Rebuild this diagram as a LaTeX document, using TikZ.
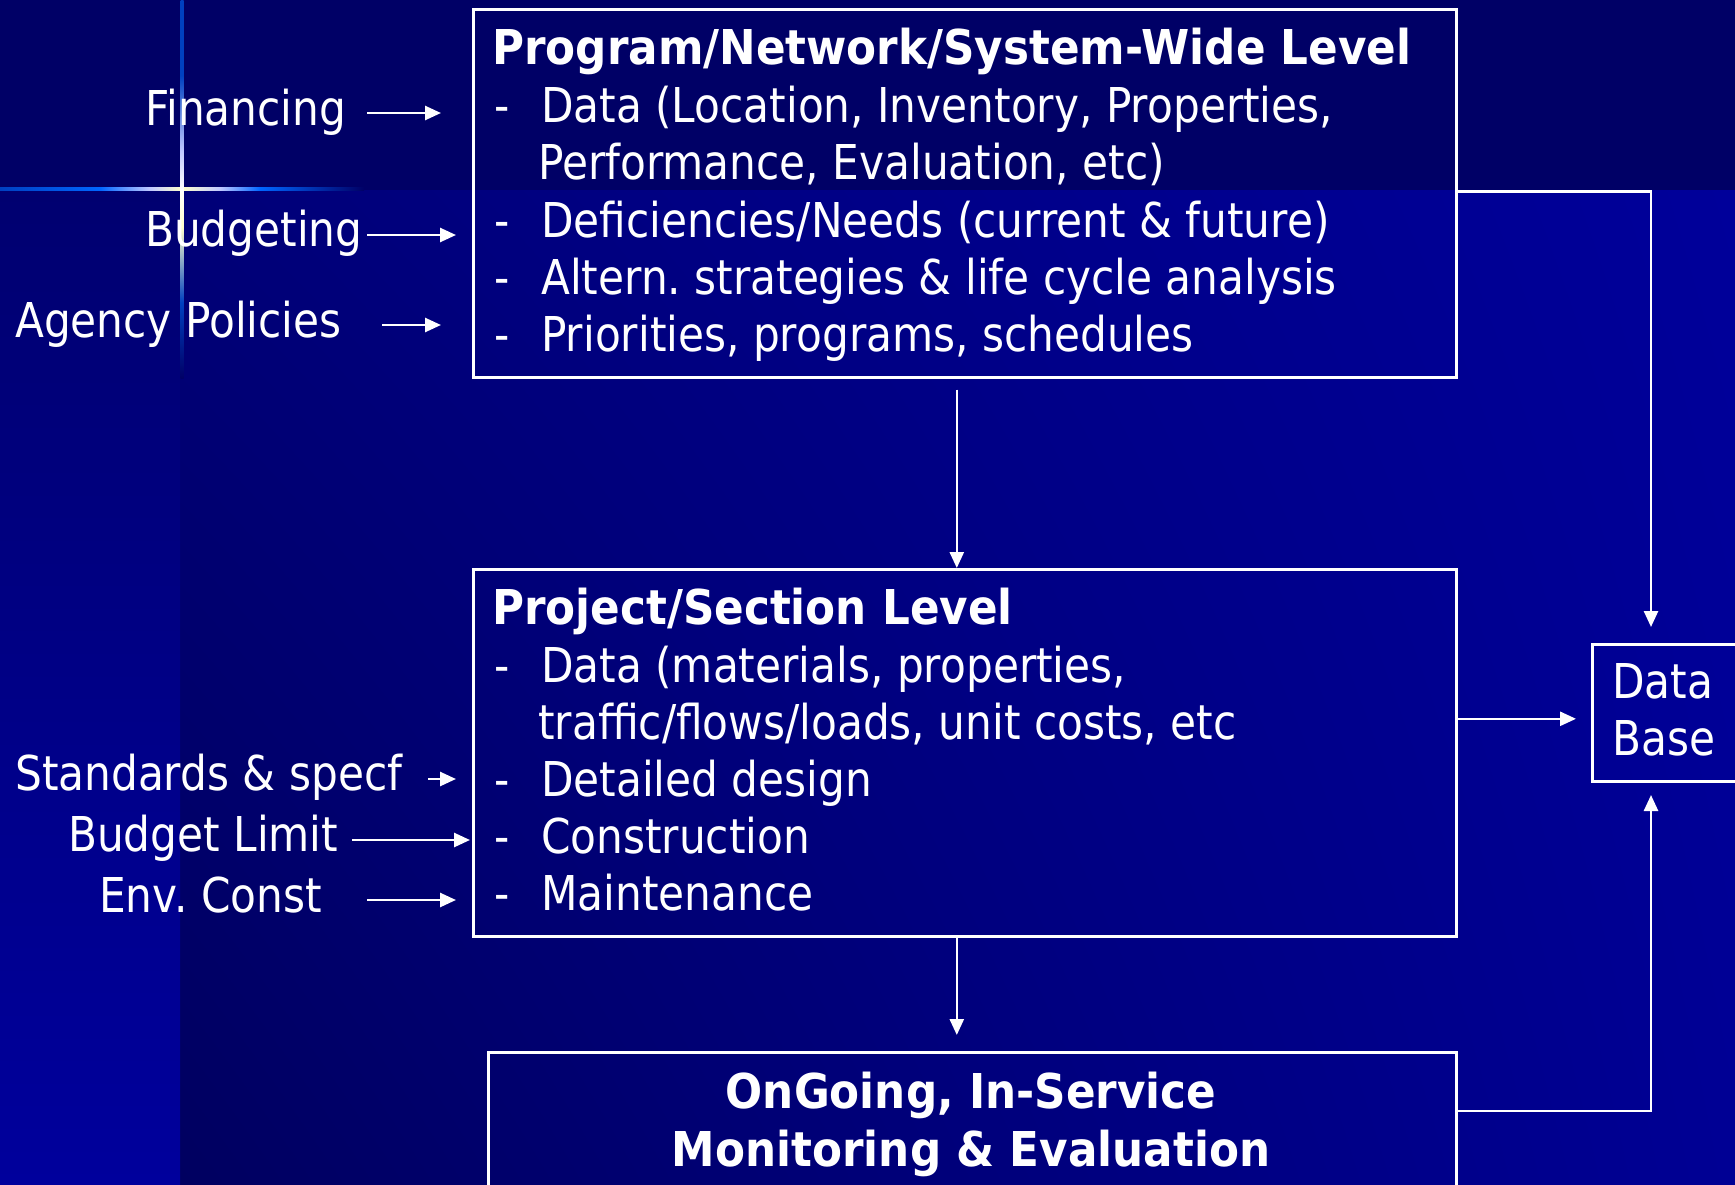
\documentclass[tikz,border=0pt]{standalone}
\usepackage{fontspec}
\setmainfont{DejaVu Sans}[FakeStretch=0.88, BoldFeatures={FakeStretch=0.91}]
\frenchspacing
\usetikzlibrary{arrows.meta, positioning, shadings}

\definecolor{bandnavy}{RGB}{0,0,102}
\definecolor{bgtl}{RGB}{0,0,120}
\definecolor{bgtr}{RGB}{0,0,154}
\definecolor{bgbl}{RGB}{0,0,96}
\definecolor{bgbr}{RGB}{0,0,148}
\definecolor{striptop}{RGB}{0,0,112}
\definecolor{stripbot}{RGB}{0,0,156}
\definecolor{flareblue}{RGB}{0,102,255}
\definecolor{flaremid}{RGB}{0,64,192}
\definecolor{flarecore}{RGB}{255,255,204}
\definecolor{flarelilac}{RGB}{192,200,255}

% lens flare on the background
\pgfdeclarehorizontalshading{hflare}{100bp}{color(0bp)=(flaremid); color(25bp)=(flaremid);
  color(38.7bp)=(flareblue); color(45.6bp)=(flarelilac); color(50bp)=(flarecore);
  color(55.2bp)=(flarelilac); color(60.7bp)=(flareblue); color(75bp)=(bandnavy); color(100bp)=(bandnavy)}
\pgfdeclareverticalshading{vflare}{100bp}{color(0bp)=(bandnavy); color(25bp)=(bandnavy);
  color(35bp)=(flaremid); color(45bp)=(flarecore); color(50bp)=(white);
  color(55bp)=(flarelilac); color(65bp)=(flaremid); color(75bp)=(flaremid); color(100bp)=(flaremid)}

\begin{document}
\begin{tikzpicture}[x=1pt, y=-1pt, >={Triangle[length=16pt,width=14pt]},
    every node/.style={text=white, font=\fontsize{48}{57}\selectfont},
    panel/.style={draw=white, line width=2.6pt, anchor=north west, inner sep=0pt},
    item/.style={anchor=base west, inner sep=0pt},
    head/.style={item, font=\fontsize{48}{57}\selectfont\bfseries},
    feed/.style={draw=white, line width=2.6pt, ->}]

    % background
    \useasboundingbox (0,0) rectangle (1735,1185);
    \clip (0,0) rectangle (1735,1185);
    \shade[upper left=bgtl, upper right=bgtr, lower left=bgbl, lower right=bgbr]
        (180,190) rectangle (1735,1185);
    \shade[top color=striptop, bottom color=stripbot] (0,190) rectangle (180,1185);
    \fill[bandnavy] (0,0) rectangle (1735,190);
    \shade[shading=hflare] (0,187.5) rectangle (364,191);
    \shade[shading=vflare] (180.5,0) rectangle (183.5,378);

    % boxes
    \node[panel, minimum width=983pt, minimum height=368pt] (prog) at (472,8) {};
    \node[panel, minimum width=983pt, minimum height=367pt] (proj) at (472,568) {};
    \node[panel, minimum width=968pt, minimum height=250pt] (mon) at (487,1051) {};
    \node[panel, minimum width=154pt, minimum height=137pt] (db) at (1591,643) {};

    % program level
    \node[head] (prog-h) at (492,65) {Program/Network/System-Wide Level};
    \node[item] (prog-1) at (494,123) {\makebox[47pt][l]{-}Data (Location, Inventory, Properties,};
    \node[item] (prog-1b) at (538,180) {Performance, Evaluation, etc)};
    \node[item] (prog-2) at (494,237) {\makebox[47pt][l]{-}Deficiencies/Needs (current \& future)};
    \node[item] (prog-3) at (494,294) {\makebox[47pt][l]{-}Altern. strategies \& life cycle analysis};
    \node[item] (prog-4) at (494,351) {\makebox[47pt][l]{-}Priorities, programs, schedules};

    % project level
    \node[head] (proj-h) at (492,624) {Project/Section Level};
    \node[item] (proj-1) at (494,682) {\makebox[47pt][l]{-}Data (materials, properties,};
    \node[item] (proj-1b) at (538,739) {traffic/flows/loads, unit costs, etc};
    \node[item] (proj-2) at (494,796) {\makebox[47pt][l]{-}Detailed design};
    \node[item] (proj-3) at (494,853) {\makebox[47pt][l]{-}Construction};
    \node[item] (proj-4) at (494,910) {\makebox[47pt][l]{-}Maintenance};

    % monitoring
    \node[head, anchor=base] (mon-1) at (971,1108) {OnGoing, In-Service};
    \node[head, anchor=base] (mon-2) at (971,1166) {Monitoring \& Evaluation};

    % data base
    \node[item] (db-1) at (1612,698) {Data};
    \node[item] (db-2) at (1612,755) {Base};
    \coordinate (db-top) at (1651,643);
    \coordinate (db-bot) at (1651,780);

    % inputs
    \node[item] (fin) at (145,126) {Financing};
    \node[item] (bud) at (145,247) {Budgeting};
    \node[item] (pol) at (15,337) {Agency Policies};
    \node[item] (std) at (15,790) {Standards \& specf};
    \node[item] (lim) at (68,851) {Budget Limit};
    \node[item] (env) at (99,912) {Env. Const};

    \coordinate (fin-a) at (367,113);
    \coordinate (bud-a) at (367,235);
    \coordinate (pol-a) at (382,325);
    \coordinate (std-a) at (428,779);
    \coordinate (lim-a) at (352,840);
    \coordinate (env-a) at (367,900);

    \draw[feed, shorten >=31pt] (fin-a) -- (fin-a -| prog.west);
    \draw[feed, shorten >=16pt] (bud-a) -- (bud-a -| prog.west);
    \draw[feed, shorten >=31pt] (pol-a) -- (pol-a -| prog.west);
    \draw[feed, shorten >=16pt] (std-a) -- (std-a -| proj.west);
    \draw[feed, shorten >=2pt] (lim-a) -- (lim-a -| proj.west);
    \draw[feed, shorten >=16pt] (env-a) -- (env-a -| proj.west);

    % flow between levels
    \draw[feed] ([xshift=-8pt,yshift=-11pt]prog.south) -- ([xshift=-8pt]proj.north);
    \draw[feed, shorten >=16pt] ([xshift=-8pt]proj.south) -- ([xshift=-8pt]proj.south |- mon.north);
    \draw[feed, shorten >=16pt] ([yshift=2pt]prog.east) -| (db-top);
    \draw[feed, shorten >=15pt] ([yshift=34pt]proj.east) -- ([yshift=34pt]proj.east -| db.west);
    \draw[feed, shorten >=15pt] ([yshift=-60pt]mon.north east) -| (db-bot);
\end{tikzpicture}
\end{document}
